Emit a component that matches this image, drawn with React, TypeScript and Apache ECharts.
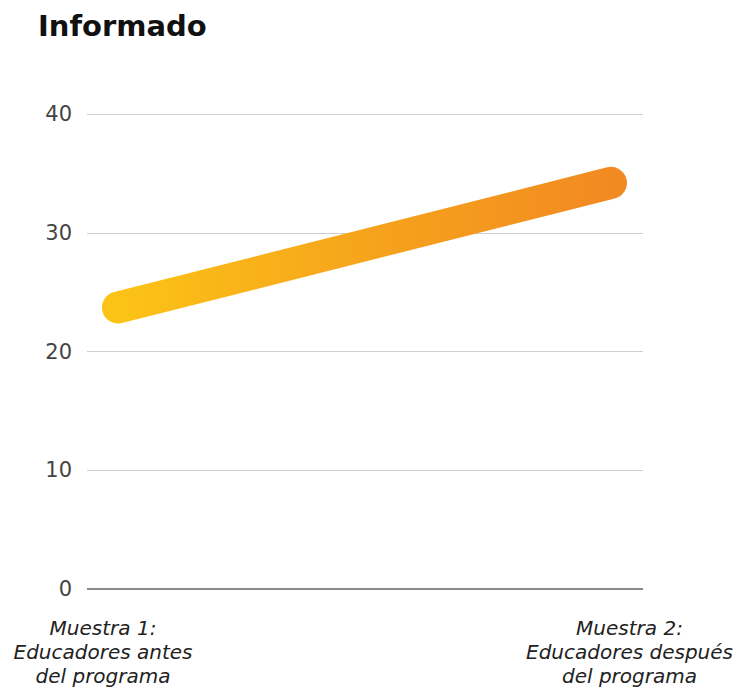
import React, { useEffect, useRef } from "react";
import * as echarts from "echarts";

const title = "Informado";
const categories = [
  "Muestra 1:\nEducadores antes\ndel programa",
  "Muestra 2:\nEducadores después\ndel programa",
];
const values = [23.7, 34.2];
const yTicks = { min: 0, max: 40, interval: 10 };

export default function App() {
  const ref = useRef<HTMLDivElement>(null);
  useEffect(() => {
    if (!ref.current) return;
    const chart = echarts.init(ref.current, null, { renderer: "svg" });
    const font = "DejaVu Sans";
    chart.setOption({
      animation: false,
      backgroundColor: "#ffffff",
      title: {
        text: title,
        left: 25,
        top: -2,
        textStyle: { fontFamily: font, fontWeight: "bold", fontSize: 29, color: "#111" },
      },
      grid: [
        { left: 79, right: 93, top: 106, bottom: 99 },
        { left: 110, right: 125, top: 106, bottom: 99 },
        { left: 95, right: 100, top: 106, bottom: 99 },
      ],
      xAxis: [
        { gridIndex: 0, type: "category", data: categories, show: false },
        { gridIndex: 1, type: "category", data: categories, boundaryGap: false, show: false },
        {
          gridIndex: 2,
          type: "category",
          data: categories,
          boundaryGap: false,
          axisLine: { show: false },
          axisTick: { show: false },
          axisLabel: {
            margin: 32,
            fontFamily: font,
            fontStyle: "italic",
            fontSize: 20,
            lineHeight: 24,
            color: "#222",
            align: "center",
          },
        },
      ],
      yAxis: [
        {
          gridIndex: 0,
          type: "value",
          min: yTicks.min,
          max: yTicks.max,
          interval: yTicks.interval,
          axisLine: { show: false },
          axisTick: { show: false },
          axisLabel: { margin: 15, fontFamily: font, fontSize: 21, color: "#444" },
          splitLine: { lineStyle: { color: "#cfcfcf", width: 1 } },
        },
        { gridIndex: 1, type: "value", min: yTicks.min, max: yTicks.max, show: false, splitLine: { show: false } },
        { gridIndex: 2, type: "value", min: yTicks.min, max: yTicks.max, show: false, splitLine: { show: false } },
      ],
      series: [
        {
          type: "line",
          xAxisIndex: 1,
          yAxisIndex: 1,
          data: values,
          showSymbol: false,
          symbol: "none",
          lineStyle: {
            width: 32,
            cap: "round",
            color: new echarts.graphic.LinearGradient(0, 0, 1, 0, [
              { offset: 0, color: "#FCC316" },
              { offset: 0.5, color: "#F6A41C" },
              { offset: 1, color: "#F28A22" },
            ]),
          },
        },
        {
          type: "line",
          xAxisIndex: 0,
          yAxisIndex: 0,
          data: [],
          markLine: {
            silent: true,
            symbol: "none",
            label: { show: false },
            lineStyle: { color: "#8a8a8a", width: 2, type: "solid" },
            data: [{ yAxis: 0 }],
          },
        },
      ],
    });
    return () => chart.dispose();
  }, []);
  return <div ref={ref} style={{ width: 728, height: 680 }} />;
}
